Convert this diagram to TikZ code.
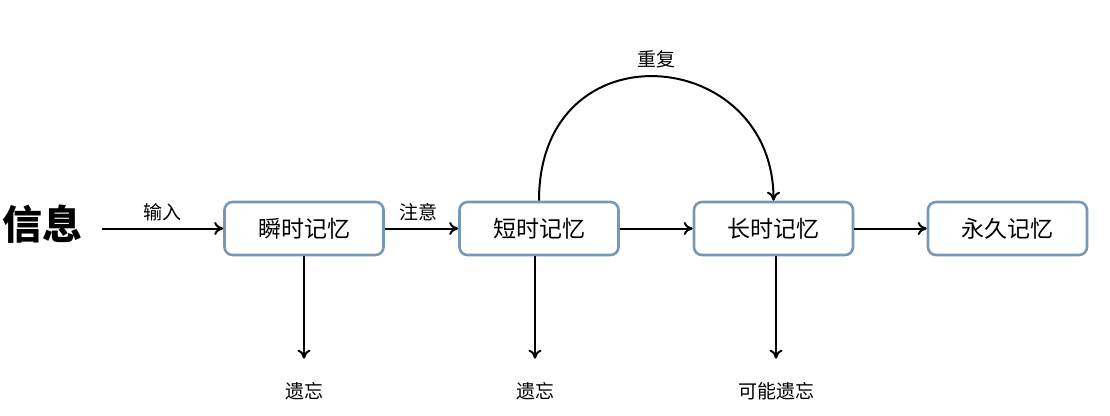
\documentclass[tikz,border=0pt]{standalone}
\usepackage{fontspec}
\setmainfont{Noto Sans CJK SC}
\usetikzlibrary{arrows.meta}
\definecolor{boxc}{RGB}{122,152,182}

\begin{document}
\begin{tikzpicture}[x=1pt,y=-1pt,
  box/.style={draw=boxc,line width=2.6pt,rounded corners=8pt,fill=white,
    minimum width=159pt,minimum height=53pt,font=\fontsize{23}{23}\selectfont},
  lbl/.style={font=\fontsize{19}{19}\selectfont},
  arr/.style={line width=2pt,-{To[length=9pt,width=13pt]}}]
\useasboundingbox (0,0) rectangle (1110,415);

\node[font=\fontsize{40}{40}\selectfont\bfseries,inner sep=0pt] (info) at (42,224) {信息};
\node[box] (sensory) at (304,228.5) {瞬时记忆};
\node[box] (short) at (539,228.5) {短时记忆};
\node[box] (long) at (773.5,228.5) {长时记忆};
\node[box] (perm) at (1007.5,228.5) {永久记忆};

\node[lbl] (forget1) at (304,391) {遗忘};
\node[lbl] (forget2) at (535,391) {遗忘};
\node[lbl] (forget3) at (776,391) {可能遗忘};

\draw[arr] ([xshift=20pt]info.east |- sensory.west) -- (sensory.west)
  node[lbl,midway,above=3pt] {输入};
\draw[arr] (sensory.east) -- (short.west) node[lbl,midway,above=3pt,xshift=-3pt] {注意};
\draw[arr] (short.east) -- (long.west);
\draw[arr] (long.east) -- (perm.west);

\draw[arr] (sensory.south) -- ([yshift=20pt]forget1.north);
\draw[arr] (short.south -| forget2) -- ([yshift=20pt]forget2.north);
\draw[arr] (long.south -| forget3) -- ([yshift=20pt]forget3.north);

\draw[arr] (short.north) .. controls (539,25) and (773.5,45) .. (long.north)
  node[lbl,pos=0.5,above=4pt] {重复};
\end{tikzpicture}
\end{document}
